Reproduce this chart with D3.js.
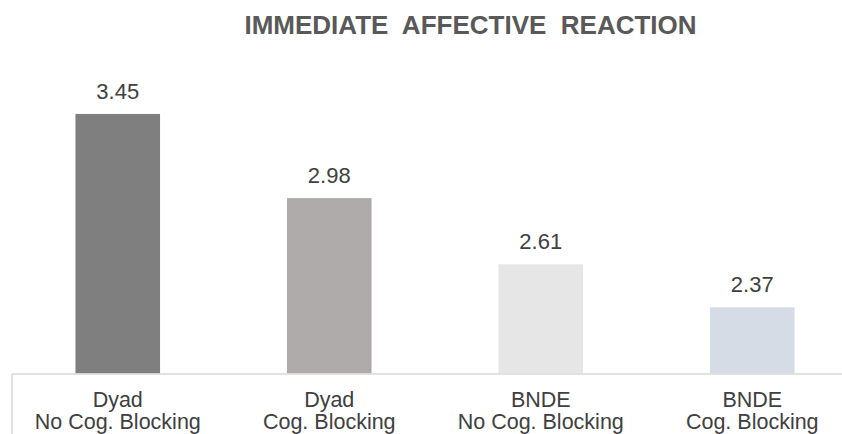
<!DOCTYPE html>
<html>
<head>
<meta charset="utf-8">
<script src="https://cdn.jsdelivr.net/npm/d3@7"></script>
<style>
  html, body { margin: 0; padding: 0; background: #fff; }
  svg { display: block; font-family: "Liberation Sans", Arial, sans-serif; }
</style>
</head>
<body>
<svg id="chart" width="842" height="434"></svg>
<script>
const groups = ["Dyad", "Dyad", "BNDE", "BNDE"];
const conditions = ["No Cog. Blocking", "Cog. Blocking", "No Cog. Blocking", "Cog. Blocking"];
const values = [3.45, 2.98, 2.61, 2.37];
const barColors = ["#7f7f7f", "#afabab", "#e7e6e6", "#d6dce5"];
const yRange = [2, 4];

const svg = d3.select("#chart");
const plotLeft = 12, plotRight = 858, baseY = 373.5, topY = 15.5;

const x = d3.scaleBand()
  .domain(d3.range(values.length))
  .range([plotLeft, plotRight])
  .paddingInner(0.6)
  .paddingOuter(0.3);

const y = d3.scaleLinear().domain(yRange).range([baseY, topY]);

// title
svg.append("text")
  .attr("x", 470.5)
  .attr("y", 33.5)
  .attr("text-anchor", "middle")
  .style("white-space", "pre")
  .attr("xml:space", "preserve")
  .attr("font-size", 26)
  .attr("font-weight", "bold")
  .attr("fill", "#595959")
  .text("IMMEDIATE  AFFECTIVE  REACTION");

// bars
svg.selectAll("rect.bar")
  .data(values)
  .enter()
  .append("rect")
  .attr("class", "bar")
  .attr("x", (d, i) => x(i))
  .attr("width", x.bandwidth())
  .attr("y", d => y(d))
  .attr("height", d => baseY - y(d))
  .attr("fill", (d, i) => barColors[i]);

// value labels
svg.selectAll("text.val")
  .data(values)
  .enter()
  .append("text")
  .attr("class", "val")
  .attr("x", (d, i) => x(i) + x.bandwidth() / 2)
  .attr("y", d => y(d) - 15)
  .attr("text-anchor", "middle")
  .attr("font-size", 22)
  .attr("fill", "#404040")
  .text(d => d.toFixed(2));

// category axis: baseline plus left edge
svg.append("line")
  .attr("x1", plotLeft).attr("x2", 842)
  .attr("y1", baseY + 0.5).attr("y2", baseY + 0.5)
  .attr("stroke", "#d9d9d9").attr("stroke-width", 1.5);
svg.append("line")
  .attr("x1", plotLeft).attr("x2", plotLeft)
  .attr("y1", baseY + 0.5).attr("y2", 434)
  .attr("stroke", "#d9d9d9").attr("stroke-width", 1.5);

const cat = svg.selectAll("text.cat")
  .data(values)
  .enter()
  .append("text")
  .attr("class", "cat")
  .attr("text-anchor", "middle")
  .attr("font-size", 21.5)
  .attr("fill", "#404040");

cat.append("tspan")
  .attr("x", (d, i) => x(i) + x.bandwidth() / 2)
  .attr("y", 407)
  .text((d, i) => groups[i]);
cat.append("tspan")
  .attr("x", (d, i) => x(i) + x.bandwidth() / 2)
  .attr("y", 429)
  .text((d, i) => conditions[i]);
</script>
</body>
</html>
